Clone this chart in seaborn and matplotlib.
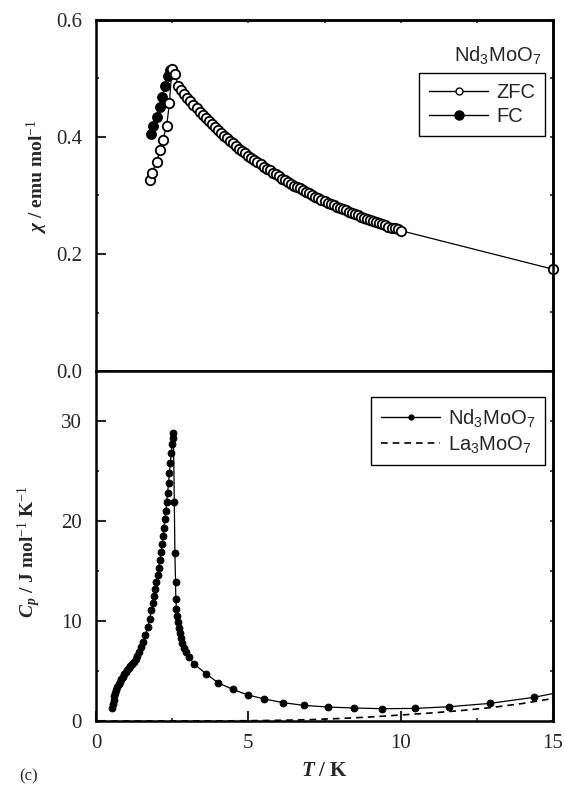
import numpy as np
import pandas as pd
import matplotlib
matplotlib.use("Agg")
import matplotlib.pyplot as plt
import seaborn as sns
from matplotlib.lines import Line2D
from matplotlib.ticker import MultipleLocator

# ---------------- data ----------------
zfc_T = [1.77, 1.83, 1.99, 2.10, 2.19, 2.32, 2.41, 2.49, 2.60,
         2.7, 2.8, 2.9, 3.0, 3.1, 3.2, 3.3, 3.4, 3.5, 3.6, 3.7, 3.8, 3.9,
         4.0, 4.1, 4.2, 4.3, 4.4, 4.5, 4.6, 4.7, 4.8, 4.9,
         5.0, 5.1, 5.2, 5.3, 5.4, 5.5, 5.6, 5.7, 5.8, 5.9,
         6.0, 6.1, 6.2, 6.3, 6.4, 6.5, 6.6, 6.7, 6.8, 6.9,
         7.0, 7.1, 7.2, 7.3, 7.4, 7.5, 7.6, 7.7, 7.8, 7.9,
         8.0, 8.1, 8.2, 8.3, 8.4, 8.5, 8.6, 8.7, 8.8, 8.9,
         9.0, 9.1, 9.2, 9.3, 9.4, 9.5, 9.6, 9.7, 9.8, 9.9, 10.0, 15.0]
zfc_chi = [0.326, 0.338, 0.358, 0.377, 0.395, 0.419, 0.458, 0.516, 0.508,
           0.487, 0.480, 0.474, 0.467, 0.461, 0.455, 0.449, 0.443, 0.438, 0.432, 0.427, 0.422, 0.417,
           0.412, 0.407, 0.402, 0.398, 0.393, 0.389, 0.384, 0.380, 0.376, 0.372,
           0.368, 0.364, 0.360, 0.357, 0.353, 0.349, 0.346, 0.343, 0.339, 0.336,
           0.333, 0.329, 0.326, 0.323, 0.320, 0.317, 0.315, 0.312, 0.309, 0.306,
           0.304, 0.301, 0.298, 0.296, 0.293, 0.291, 0.288, 0.286, 0.284, 0.281,
           0.279, 0.277, 0.275, 0.272, 0.270, 0.268, 0.266, 0.264, 0.262, 0.260,
           0.258, 0.256, 0.254, 0.253, 0.251, 0.249, 0.247, 0.245, 0.244, 0.242, 0.240, 0.174]

fc_T = [1.81, 1.86, 1.99, 2.10, 2.16, 2.27, 2.35, 2.43]
fc_chi = [0.405, 0.419, 0.435, 0.452, 0.469, 0.487, 0.504, 0.515]

nd_T = [0.54, 0.56, 0.58, 0.60, 0.63, 0.66, 0.70, 0.74, 0.78, 0.83, 0.88, 0.93, 0.98,
        1.03, 1.08, 1.13, 1.18, 1.24, 1.30, 1.36, 1.42, 1.48, 1.55, 1.62, 1.70, 1.76,
        1.82, 1.86, 1.90, 1.94, 1.98, 2.02, 2.06, 2.10, 2.14, 2.17, 2.20, 2.23, 2.26,
        2.29, 2.32, 2.35, 2.38, 2.41, 2.44, 2.47, 2.50, 2.52, 2.54,
        2.57, 2.59, 2.61, 2.62, 2.64, 2.66, 2.69, 2.72, 2.75, 2.79, 2.83, 2.88, 2.95,
        3.05, 3.22, 3.62, 4.02, 4.49, 4.99, 5.53, 6.15, 6.83, 7.60, 8.47, 9.40,
        10.47, 11.60, 12.92, 14.36, 15.6]
nd_Cp = [1.3, 1.7, 2.1, 2.5, 2.8, 3.1, 3.4, 3.7, 3.95, 4.2, 4.45, 4.7, 4.9,
         5.1, 5.3, 5.5, 5.7, 5.95, 6.2, 6.5, 6.9, 7.4, 7.9, 8.6, 9.4, 10.2,
         11.1, 11.8, 12.5, 13.2, 13.9, 14.6, 15.3, 16.1, 16.9, 17.7, 18.5, 19.3, 20.2,
         21.0, 21.9, 22.8, 23.8, 24.8, 25.8, 26.8, 27.7, 28.3, 28.8,
         21.9, 16.8, 13.9, 12.2, 11.2, 10.5, 9.9, 9.3, 8.8, 8.3, 7.8, 7.3, 6.9,
         6.4, 5.7, 4.7, 3.8, 3.16, 2.6, 2.2, 1.83, 1.56, 1.4, 1.3, 1.23,
         1.26, 1.43, 1.76, 2.36, 3.1]

la_T = [0.5, 2.0, 4.0, 5.0, 6.0, 7.0, 8.0, 9.0, 10.0, 11.0, 12.0, 13.0, 14.0, 15.0]
la_Cp = [0.0, 0.0, 0.01, 0.03, 0.07, 0.13, 0.25, 0.4, 0.6, 0.8, 1.05, 1.35, 1.75, 2.25]

# ---------------- style ----------------
sns.set_style("ticks")
plt.rcParams["font.family"] = ["Liberation Serif", "DejaVu Serif"]
plt.rcParams["mathtext.fontset"] = "custom"
plt.rcParams["mathtext.rm"] = "Liberation Serif"
plt.rcParams["mathtext.it"] = "Liberation Serif:italic:bold"
plt.rcParams["mathtext.bf"] = "Liberation Serif:bold"
plt.rcParams["mathtext.sf"] = "Liberation Sans"

fig = plt.figure(figsize=(5.64, 7.86), dpi=100)
L, W = 96 / 564, (553 - 96) / 564
ax1 = fig.add_axes([L, 1 - 371 / 786, W, 351 / 786])
ax2 = fig.add_axes([L, 1 - 721 / 786, W, 350 / 786])

# ---- top panel ----
sns.lineplot(x=fc_T, y=fc_chi, ax=ax1, color="black", lw=0.9, sort=False,
             estimator=None, marker="o", markersize=6.8, markerfacecolor="black",
             markeredgecolor="black", markeredgewidth=1.0)
sns.lineplot(x=zfc_T, y=zfc_chi, ax=ax1, color="black", lw=0.9, sort=False,
             estimator=None, marker="o", markersize=6.8, markerfacecolor="white",
             markeredgecolor="black", markeredgewidth=1.3, clip_on=False)

ax1.set_xlim(0, 15)
ax1.set_ylim(0, 0.6)
ax1.yaxis.set_major_locator(MultipleLocator(0.2))
ax1.yaxis.set_minor_locator(MultipleLocator(0.1))
ax1.tick_params(axis="y", which="major", direction="in", length=7, width=1.5,
                labelsize=15, pad=10)
ax1.tick_params(axis="y", which="minor", direction="in", length=2.5, width=1.2)
ax1.tick_params(axis="x", which="both", bottom=False, labelbottom=False)
ax1.set_xlabel("")
ax1.set_ylabel(r"$\chi$ / emu mol$^{-1}$", fontsize=14, fontweight="bold")
ax1.yaxis.set_label_coords(-0.10, 0.553)

sec = ax1.secondary_yaxis("right")
sec.set_yticks(np.arange(0, 0.61, 0.1))
sec.tick_params(direction="in", length=2.5, width=1.2, labelright=False)
secx = ax1.secondary_xaxis("top")
secx.set_xticks(np.arange(0, 15.1, 2.5))
secx.tick_params(direction="in", length=2.5, width=1.2, labeltop=False)

ax1.text(0.975, 0.9, r"Nd$_\mathsf{3}$MoO$_\mathsf{7}$", transform=ax1.transAxes,
         ha="right", va="center", fontsize=14.5, family="Liberation Sans")

h1 = [Line2D([], [], color="black", lw=1, marker="o", ms=5, mfc="white", mec="black", mew=1),
      Line2D([], [], color="black", lw=1, marker="o", ms=6.5, mfc="black", mec="black")]
leg1 = ax1.legend(h1, ["ZFC", "FC"], loc="upper right", bbox_to_anchor=(0.9825, 0.849),
                  borderaxespad=0, frameon=True, fancybox=False, framealpha=1,
                  edgecolor="black", prop={"family": "Liberation Sans", "size": 14.5},
                  handlelength=2.9, handletextpad=0.4, labelspacing=0.25, borderpad=0.5)
leg1.get_frame().set_linewidth(1.0)

# ---- bottom panel ----
sns.lineplot(x=la_T, y=la_Cp, ax=ax2, color="black", lw=1.2, sort=False,
             estimator=None, linestyle=(0, (4, 3)))
sns.lineplot(x=nd_T, y=nd_Cp, ax=ax2, color="black", lw=0.9, sort=False,
             estimator=None, marker="o", markersize=5.0, markerfacecolor="black",
             markeredgecolor="black", markeredgewidth=0.6)

ax2.set_xlim(0, 15)
ax2.set_ylim(0, 35)
ax2.xaxis.set_major_locator(MultipleLocator(5))
ax2.xaxis.set_minor_locator(MultipleLocator(2.5))
ax2.yaxis.set_major_locator(MultipleLocator(10))
ax2.yaxis.set_minor_locator(MultipleLocator(5))
ax2.tick_params(which="major", direction="in", length=7, width=1.5, labelsize=15, pad=10)
ax2.tick_params(which="minor", direction="in", length=2.5, width=1.2)
ax2.tick_params(axis="x", which="major", pad=9)
ax2.set_xlabel(r"$T$ / K", fontsize=15, fontweight="bold")
ax2.xaxis.set_label_coords(0.5, -0.115)
ax2.set_ylabel(r"$C_p$ / J mol$^{-1}$ K$^{-1}$", fontsize=14, fontweight="bold")
ax2.yaxis.set_label_coords(-0.116, 0.483)

sec2 = ax2.secondary_yaxis("right")
sec2.set_yticks(np.arange(0, 35.1, 5))
sec2.tick_params(direction="in", length=2.5, width=1.2, labelright=False)

h2 = [Line2D([], [], color="black", lw=1, marker="o", ms=3.5, mfc="black", mec="black"),
      Line2D([], [], color="black", lw=1.2, linestyle=(0, (4, 3)))]
leg2 = ax2.legend(h2, [r"Nd$_\mathsf{3}$MoO$_\mathsf{7}$", r"La$_\mathsf{3}$MoO$_\mathsf{7}$"],
                  loc="upper right", bbox_to_anchor=(0.9825, 0.926),
                  borderaxespad=0, frameon=True, fancybox=False, framealpha=1,
                  edgecolor="black", prop={"family": "Liberation Sans", "size": 14.5},
                  handlelength=2.9, handletextpad=0.4, labelspacing=0.25, borderpad=0.5)
leg2.get_frame().set_linewidth(1.0)

for ax in (ax1, ax2, sec, sec2, secx):
    for s in ax.spines.values():
        s.set_linewidth(1.8)
        s.set_color("black")

fig.text(0.035, 0.002, "(c)", fontsize=12, ha="left", va="bottom")

fig.savefig("out.png", dpi=100)
